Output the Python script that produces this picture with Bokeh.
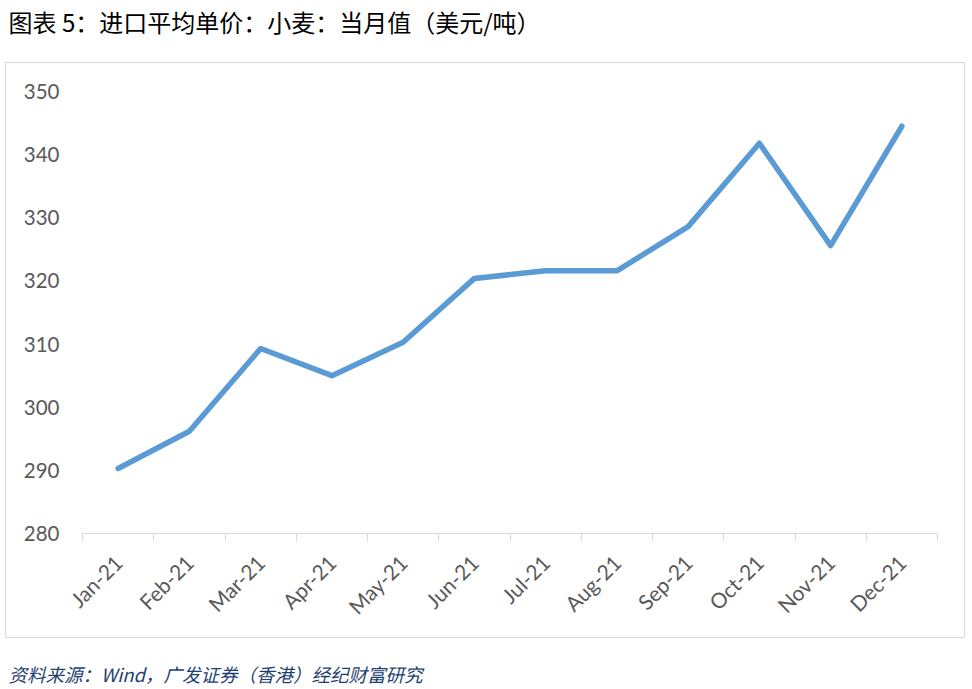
from math import pi
from bokeh.plotting import figure
from bokeh.layouts import column, row
from bokeh.models import Range1d, FixedTicker, ColumnDataSource
from bokeh.core.properties import value
from bokeh.embed import file_html
from bokeh.resources import INLINE

# ---- data ----
months = ["Jan-21", "Feb-21", "Mar-21", "Apr-21", "May-21", "Jun-21",
          "Jul-21", "Aug-21", "Sep-21", "Oct-21", "Nov-21", "Dec-21"]
price = [290.3, 296.2, 309.3, 305.0, 310.3, 320.4,
         321.6, 321.6, 328.6, 341.8, 325.6, 344.5]
y_ticks = [280, 290, 300, 310, 320, 330, 340, 350]
title_text = "图表 5：进口平均单价：小麦：当月值（美元/吨）"
source_text = "资料来源：Wind，广发证券（香港）经纪财富研究"

W = 966


def text_fig(height, txt, size, color, style, ypos):
    f = figure(width=W, height=height, output_backend="svg", toolbar_location=None,
               x_range=Range1d(0, W), y_range=Range1d(0, height),
               x_axis_location=None, y_axis_location=None,
               min_border=0, min_border_left=0, min_border_right=0,
               min_border_top=0, min_border_bottom=0)
    f.outline_line_color = None
    f.grid.visible = False
    f.text(x=[8], y=[height - ypos], text=[txt], text_font=value("Noto Sans CJK SC"),
           text_font_size=size, text_color=color, text_font_style=style,
           text_baseline="middle", text_align="left")
    return f


title_fig = text_fig(62, title_text, "24px", "#000000", "normal", 21)

xs = [i + 0.5 for i in range(len(months))]
src = ColumnDataSource(dict(x=xs, y=price))

p = figure(width=960, height=576, output_backend="svg", toolbar_location=None,
           x_range=Range1d(0, len(months)), y_range=Range1d(y_ticks[0], y_ticks[-1]),
           min_border_left=76, min_border_right=29, min_border_top=28, min_border_bottom=106,
           margin=(0, 0, 0, 5), styles={"border": "1px solid #d9d9d9"})
p.outline_line_color = None
p.grid.visible = False

p.line("x", "y", source=src, line_width=5.5, line_color="#5b9bd5",
       line_join="round", line_cap="round")

# x axis
xa = p.xaxis[0]
xa.ticker = FixedTicker(ticks=xs, minor_ticks=list(range(len(months) + 1)))
xa.major_label_overrides = {x: m for x, m in zip(xs, months)}
xa.major_label_orientation = pi / 4
xa.axis_line_color = "#d9d9d9"
xa.major_tick_in = 0
xa.major_tick_out = 0
xa.minor_tick_in = 0
xa.minor_tick_out = 8
xa.minor_tick_line_color = "#d9d9d9"
xa.major_label_text_font = "Lato"
xa.major_label_text_font_size = "21px"
xa.major_label_text_color = "#595959"
xa.major_label_standoff = 17

# y axis
ya = p.yaxis[0]
ya.ticker = FixedTicker(ticks=y_ticks)
ya.axis_line_color = None
ya.major_tick_in = 0
ya.major_tick_out = 0
ya.minor_tick_line_color = None
ya.major_label_text_font = "Lato"
ya.major_label_text_font_size = "20.5px"
ya.major_label_text_color = "#595959"
ya.major_label_standoff = 23

source_fig = text_fig(48, source_text, "18.5px", "#1f3f73", "italic", 35)

layout = column(row(title_fig), p, row(source_fig), spacing=0)
open("out.html", "w").write(file_html(layout, INLINE))
